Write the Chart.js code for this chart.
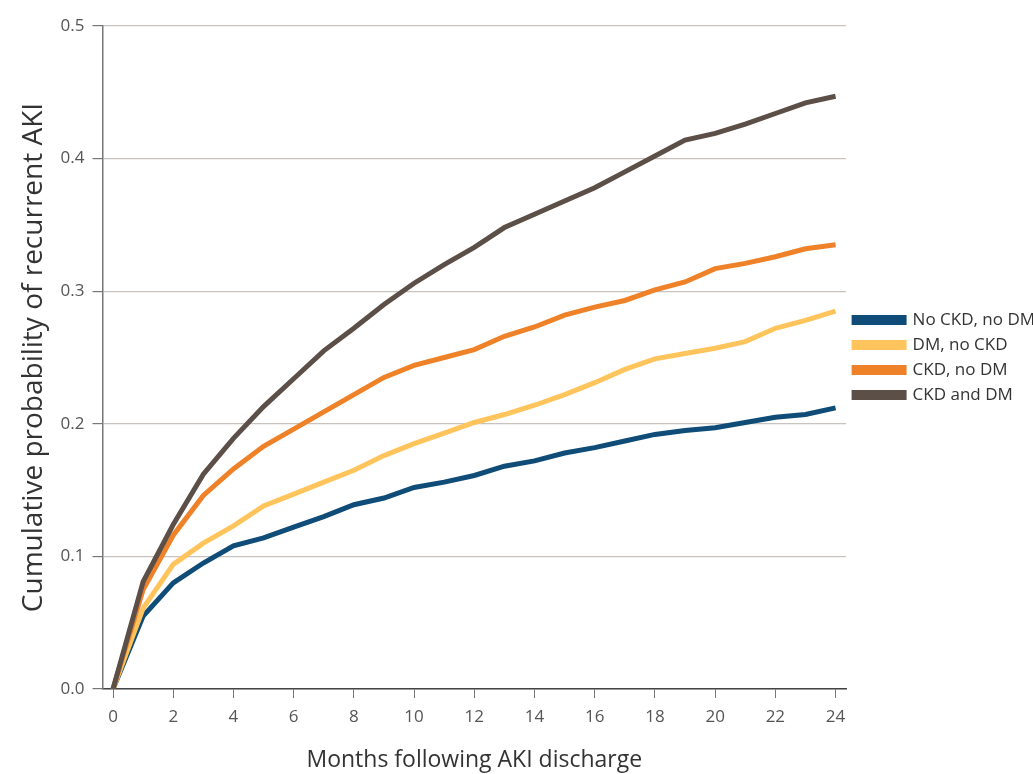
<!DOCTYPE html>
<html>
<head>
<meta charset="utf-8">
<script src="https://cdn.jsdelivr.net/npm/chart.js@4.4.0/dist/chart.umd.min.js"></script>
<style>
    html, body { margin: 0; padding: 0; background: #ffffff; overflow: hidden; }
    #wrap { width: 1045px; height: 774px; }
</style>
</head>
<body>
<div id="wrap"><canvas id="aki"></canvas></div>
<script>
const months = [0, 1, 2, 3, 4, 5, 6, 7, 8, 9, 10, 11, 12, 13, 14, 15, 16, 17, 18, 19, 20, 21, 22, 23, 24];
const monthTicks = [0, 2, 4, 6, 8, 10, 12, 14, 16, 18, 20, 22, 24];
const probTicks = [0, 0.1, 0.2, 0.3, 0.4, 0.5];

const noCkdNoDm = [0, 0.055, 0.080, 0.095, 0.108, 0.114, 0.122, 0.130, 0.139, 0.144, 0.152, 0.156, 0.161, 0.168, 0.172, 0.178, 0.182, 0.187, 0.192, 0.195, 0.197, 0.201, 0.205, 0.207, 0.212];
const dmNoCkd = [0, 0.061, 0.094, 0.110, 0.123, 0.138, 0.147, 0.156, 0.165, 0.176, 0.185, 0.193, 0.201, 0.207, 0.214, 0.222, 0.231, 0.241, 0.249, 0.253, 0.257, 0.262, 0.272, 0.278, 0.285];
const ckdNoDm = [0, 0.075, 0.116, 0.146, 0.166, 0.183, 0.196, 0.209, 0.222, 0.235, 0.244, 0.250, 0.256, 0.266, 0.273, 0.282, 0.288, 0.293, 0.301, 0.307, 0.317, 0.321, 0.326, 0.332, 0.335];
const ckdAndDm = [0, 0.081, 0.124, 0.162, 0.189, 0.213, 0.234, 0.255, 0.272, 0.290, 0.306, 0.320, 0.333, 0.348, 0.358, 0.368, 0.378, 0.390, 0.402, 0.414, 0.419, 0.426, 0.434, 0.442, 0.447];

const seriesNames = ['No CKD, no DM', 'DM, no CKD', 'CKD, no DM', 'CKD and DM'];
const seriesValues = [noCkdNoDm, dmNoCkd, ckdNoDm, ckdAndDm];
const seriesColors = ['#0f4c78', '#ffc55c', '#ef8228', '#5b4f47'];

const fontFamily = "'Open Sans', sans-serif";

const datasets = seriesNames.map((name, i) => ({
    label: name,
    data: months.map((m, j) => ({ x: m, y: seriesValues[i][j] })),
    borderColor: seriesColors[i],
    backgroundColor: seriesColors[i],
    borderWidth: 5,
    pointRadius: 0,
    tension: 0,
    // brown on top, blue at the bottom
    order: seriesNames.length - i
}));

new Chart(document.getElementById('aki'), {
    type: 'line',
    data: { datasets: datasets },
    options: {
        responsive: true,
        maintainAspectRatio: false,
        animation: false,
        layout: { padding: { top: 26, left: 17, right: 0, bottom: 0 } },
        plugins: {
            tooltip: { enabled: false },
            legend: {
                position: 'right',
                fullSize: false,
                labels: {
                    boxWidth: 50,
                    boxHeight: 5,
                    padding: 8,
                    color: '#333333',
                    font: { family: fontFamily, size: 17 },
                    sort: (a, b) => a.datasetIndex - b.datasetIndex
                }
            }
        },
        scales: {
            x: {
                type: 'linear',
                min: -0.35,
                max: 24.35,
                afterBuildTicks: (scale) => {
                    scale.ticks = monthTicks.map(v => ({ value: v }));
                },
                border: { color: '#444444', width: 1.5 },
                grid: { drawOnChartArea: false, drawTicks: true, tickLength: 9, tickColor: '#777777' },
                ticks: {
                    color: '#555555',
                    padding: 9,
                    maxRotation: 0,
                    font: { family: fontFamily, size: 17 }
                },
                title: {
                    display: true,
                    text: 'Months following AKI discharge',
                    color: '#333333',
                    padding: { top: 10, bottom: 0 },
                    font: { family: fontFamily, size: 23 }
                }
            },
            y: {
                type: 'linear',
                min: 0,
                max: 0.5,
                afterBuildTicks: (scale) => {
                    scale.ticks = probTicks.map(v => ({ value: v }));
                },
                border: { color: '#777777', width: 1.5 },
                grid: { color: '#c9c3bf', lineWidth: 1.2, drawTicks: true, tickLength: 10, tickColor: '#777777' },
                ticks: {
                    color: '#555555',
                    padding: 8,
                    callback: (v) => Number(v).toFixed(1),
                    font: { family: fontFamily, size: 17 }
                },
                title: {
                    display: true,
                    text: 'Cumulative probability of recurrent AKI',
                    color: '#333333',
                    padding: { top: 0, bottom: 2 },
                    font: { family: fontFamily, size: 28 }
                }
            }
        }
    }
});
</script>
</body>
</html>
